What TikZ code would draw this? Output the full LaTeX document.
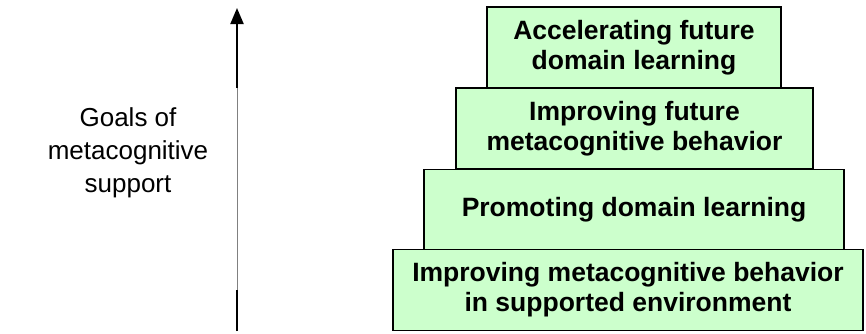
\documentclass[tikz,border=0pt]{standalone}
\usepackage{fontspec}
\setmainfont{Liberation Sans}
\usetikzlibrary{positioning, arrows.meta}

\definecolor{stepgreen}{RGB}{204,255,204}

\tikzset{
    level/.style={draw, line width=1.4pt, fill=stepgreen, align=center,
        font=\fontsize{26.5}{30}\selectfont\bfseries, inner sep=0pt},
    goal/.style={align=center, font=\fontsize{26}{33}\selectfont}
}

\begin{document}
\begin{tikzpicture}[x=1pt, y=-1pt]
        % 画布大小
        \useasboundingbox (0, 0) rectangle (866, 333);

        % 四层台阶
        \node[level, minimum width=470pt, minimum height=81pt] (behavior) at (628, 290)
            {Improving metacognitive behavior\\in supported environment};
        \node[level, minimum width=420pt, minimum height=80pt] (domain) at (634, 209.5)
            {Promoting domain learning};
        \node[level, minimum width=357pt, minimum height=81pt] (futurebehavior) at (634.5, 128.5)
            {Improving future\\metacognitive behavior};
        \node[level, minimum width=294pt, minimum height=81pt] (futuredomain) at (634, 47.5)
            {Accelerating future\\domain learning};

        % 左侧说明
        \node[goal] (goals) at (128, 153) {Goals of\\metacognitive\\support};

        % 纵向箭头
        \coordinate (arrowbot) at (237, 331);
        \coordinate (gapbot) at (237, 290);
        \coordinate (gaptop) at (237, 88);
        \coordinate (arrowtop) at (237, 8);
        \draw[line width=2pt] (arrowbot) -- (gapbot);
        \draw[gray, line width=0.8pt] (gapbot) -- (gaptop);
        \draw[line width=2pt, -{Triangle[width=13pt, length=16pt]}] (gaptop) -- (arrowtop);
    \end{tikzpicture}
\end{document}
